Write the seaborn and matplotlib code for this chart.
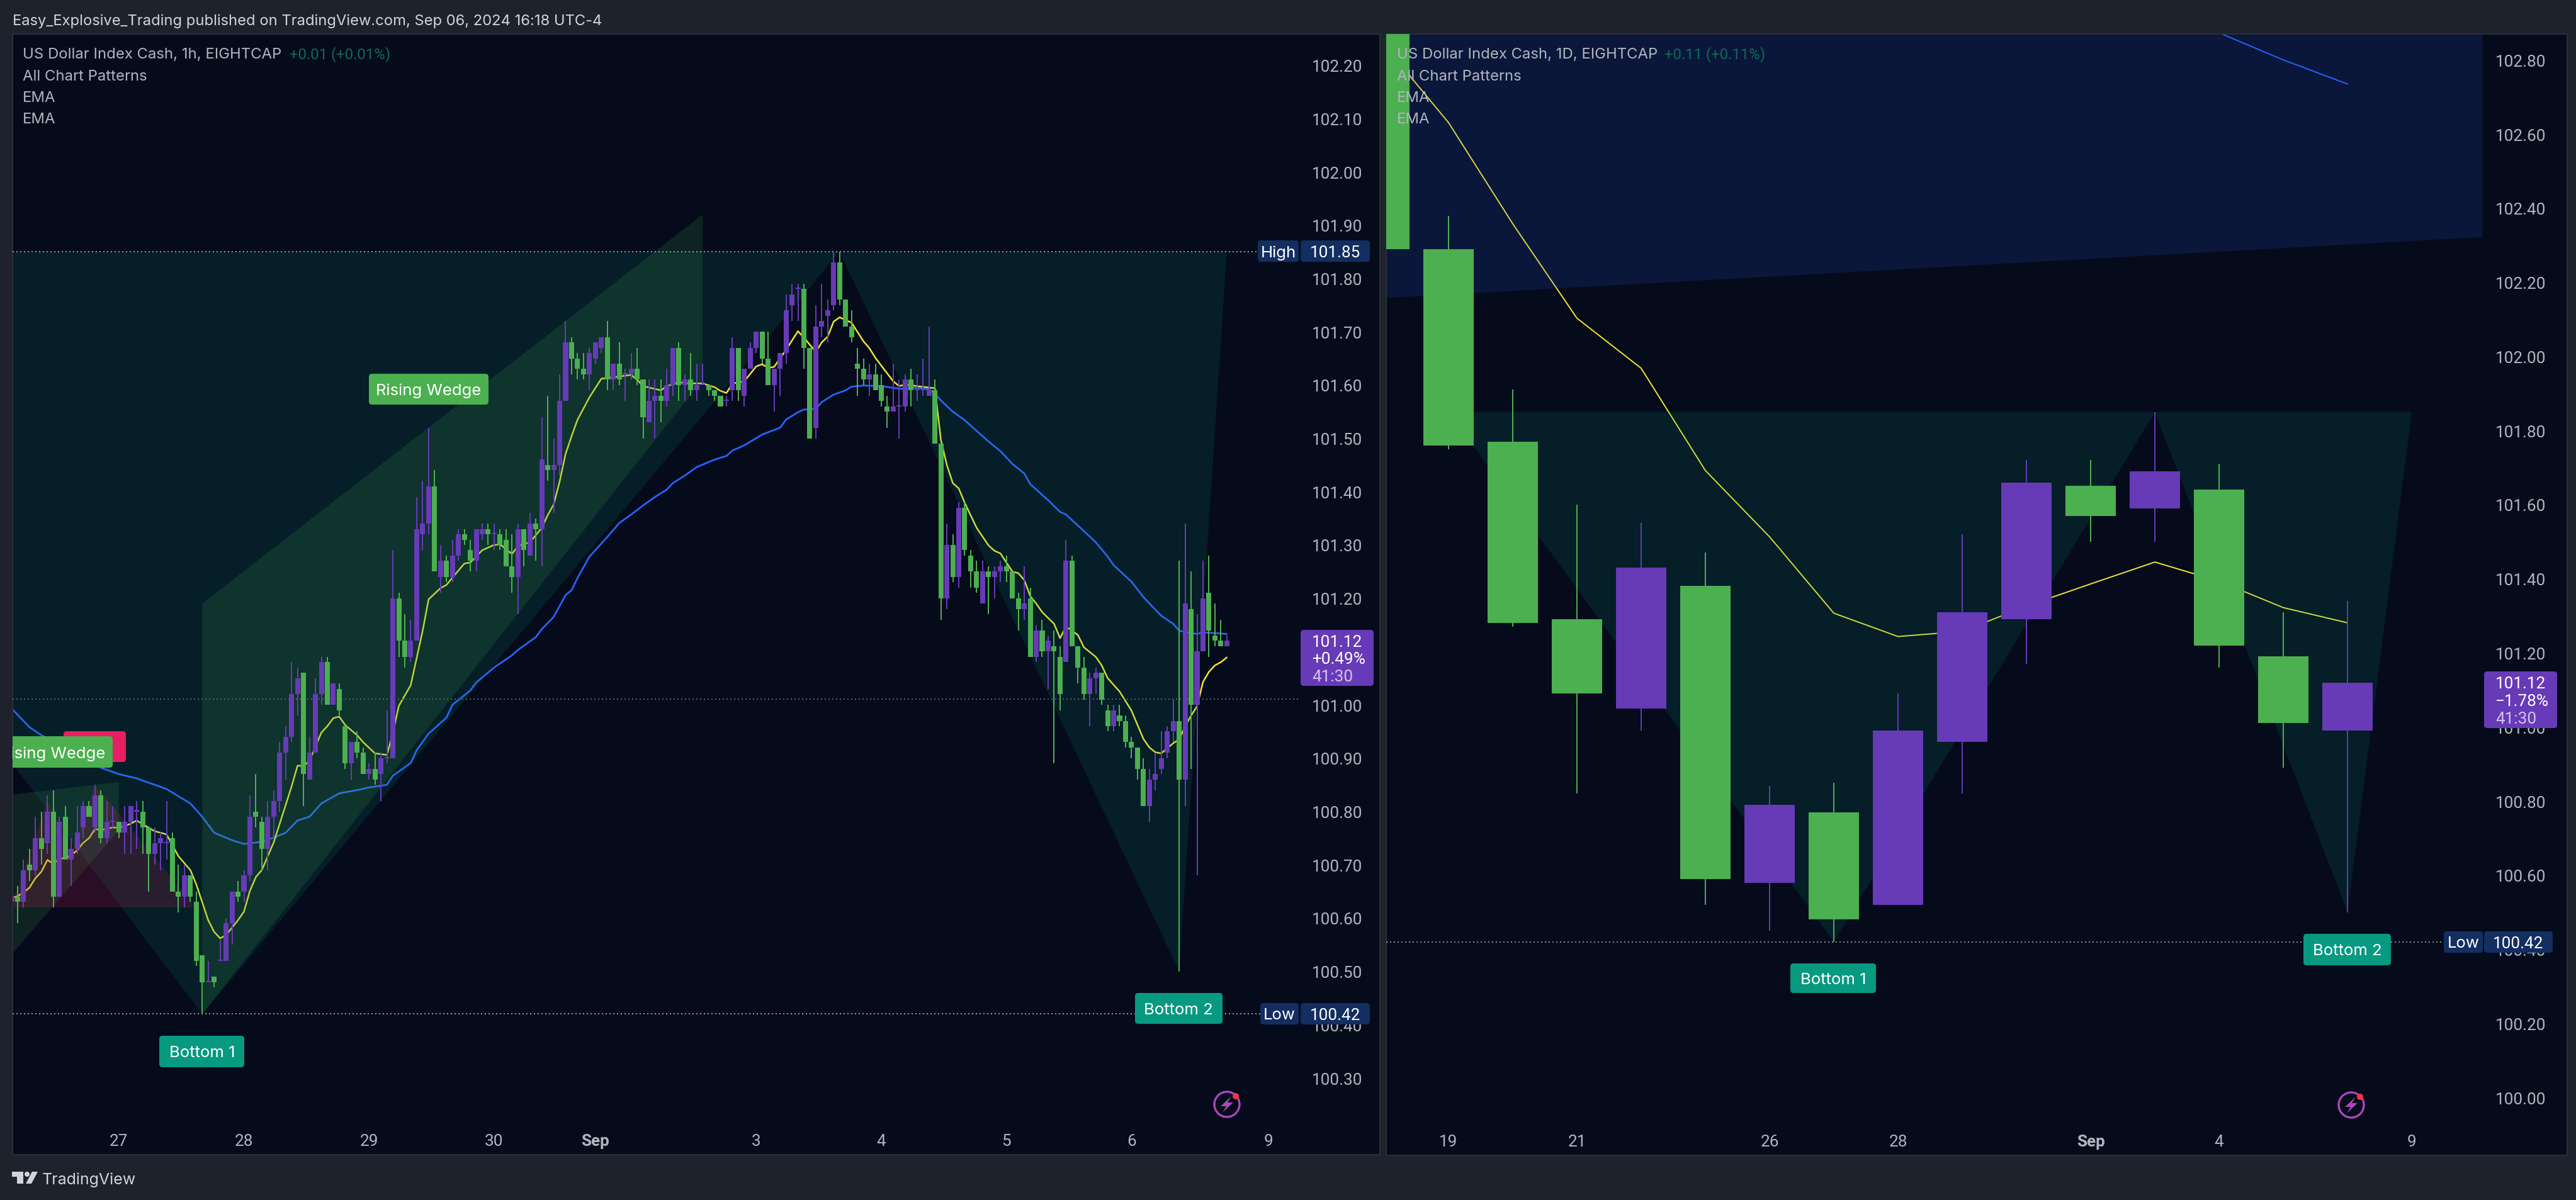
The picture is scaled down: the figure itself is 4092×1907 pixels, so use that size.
import numpy as np
import matplotlib
matplotlib.use("Agg")
import matplotlib.pyplot as plt
import seaborn as sns
from matplotlib.patches import Circle, FancyBboxPatch, Polygon
from matplotlib.transforms import Affine2D

W, H = 4092, 1908

# 1h candles
open_1h = [100.63,100.64,100.63,100.70,100.69,100.75,100.74,100.80,100.64,100.79,
    100.71,100.73,100.77,100.81,100.77,100.83,100.75,100.78,100.78,100.76,
    100.78,100.80,100.80,100.77,100.72,100.74,100.74,100.75,100.65,100.64,
    100.68,100.63,100.53,100.48,100.49,100.52,100.52,100.59,100.65,100.65,
    100.68,100.80,100.78,100.73,100.79,100.82,100.91,100.94,101.02,101.06,
    100.86,100.91,101.02,101.08,101.00,101.03,100.96,100.89,100.93,100.91,
    100.87,100.88,100.87,100.90,100.90,101.20,101.12,101.09,101.12,101.32,
    101.34,101.41,101.24,101.27,101.24,101.28,101.32,101.29,101.27,101.32,
    101.33,101.32,101.32,101.31,101.26,101.24,101.33,101.28,101.34,101.33,
    101.45,101.44,101.45,101.57,101.68,101.65,101.63,101.62,101.65,101.67,
    101.69,101.61,101.64,101.62,101.62,101.63,101.61,101.53,101.57,101.58,
    101.57,101.60,101.67,101.60,101.61,101.59,101.60,101.60,101.59,101.58,
    101.57,101.59,101.67,101.58,101.63,101.67,101.70,101.65,101.60,101.63,
    101.66,101.75,101.78,101.78,101.67,101.52,101.71,101.73,101.75,101.83,
    101.76,101.71,101.64,101.63,101.61,101.62,101.60,101.56,101.55,101.56,
    101.56,101.61,101.59,101.59,101.58,101.59,101.49,101.20,101.30,101.24,
    101.37,101.28,101.25,101.19,101.25,101.24,101.25,101.26,101.25,101.20,
    101.18,101.20,101.09,101.14,101.10,101.11,101.09,101.08,101.27,101.11,
    101.07,101.02,101.05,101.06,100.99,100.96,100.98,100.97,100.93,100.92,
    100.88,100.81,100.86,100.88,100.91,100.95,100.97,100.86,101.18,101.00,
    101.10,101.21,101.13,101.12,101.11]
high_1h = [100.64,100.66,100.71,100.73,100.79,100.80,100.83,100.84,100.79,100.81,
    100.75,100.81,100.82,100.82,100.85,100.84,100.82,100.81,100.78,100.81,
    100.81,100.82,100.82,100.77,100.77,100.76,100.82,100.76,100.70,100.70,
    100.68,100.65,100.53,100.52,100.49,100.56,100.60,100.65,100.67,100.69,
    100.83,100.87,100.79,100.82,100.84,100.93,100.96,101.08,101.07,101.06,
    100.94,101.05,101.09,101.09,101.04,101.04,100.96,100.93,100.95,100.92,
    100.89,100.91,100.91,100.99,101.29,101.21,101.17,101.16,101.39,101.42,
    101.52,101.44,101.30,101.28,101.31,101.33,101.33,101.31,101.33,101.34,
    101.34,101.34,101.33,101.33,101.32,101.34,101.33,101.36,101.35,101.54,
    101.58,101.50,101.62,101.72,101.69,101.66,101.66,101.67,101.68,101.69,
    101.72,101.64,101.68,101.63,101.66,101.67,101.61,101.61,101.61,101.61,
    101.63,101.67,101.68,101.62,101.66,101.64,101.64,101.60,101.59,101.58,
    101.58,101.69,101.67,101.63,101.68,101.70,101.70,101.70,101.63,101.66,
    101.77,101.79,101.79,101.79,101.67,101.75,101.79,101.76,101.85,101.85,
    101.76,101.74,101.67,101.65,101.64,101.64,101.62,101.58,101.64,101.61,
    101.62,101.63,101.62,101.65,101.71,101.61,101.49,101.34,101.32,101.38,
    101.38,101.29,101.27,101.27,101.26,101.26,101.27,101.28,101.25,101.21,
    101.26,101.22,101.15,101.16,101.13,101.14,101.11,101.31,101.28,101.11,
    101.09,101.06,101.07,101.06,101.00,101.00,101.00,100.98,100.94,100.92,
    100.90,100.88,100.91,100.95,100.96,101.01,101.27,101.34,101.25,101.17,
    101.27,101.28,101.19,101.16,101.13]
low_1h = [100.63,100.59,100.62,100.67,100.68,100.70,100.72,100.62,100.64,100.71,
    100.66,100.72,100.75,100.79,100.76,100.74,100.74,100.77,100.75,100.72,
    100.72,100.73,100.72,100.65,100.70,100.69,100.71,100.65,100.61,100.62,
    100.63,100.51,100.42,100.48,100.47,100.52,100.52,100.55,100.63,100.63,
    100.67,100.77,100.69,100.69,100.75,100.80,100.86,100.93,100.98,100.81,
    100.86,100.91,101.00,101.00,101.00,100.98,100.88,100.86,100.90,100.87,
    100.86,100.85,100.82,100.89,100.90,101.09,101.07,101.08,101.12,101.29,
    101.32,101.25,101.21,101.23,101.23,101.27,101.30,101.25,101.25,101.31,
    101.30,101.29,101.29,101.26,101.21,101.17,101.26,101.28,101.27,101.26,
    101.42,101.36,101.43,101.57,101.62,101.61,101.61,101.59,101.64,101.66,
    101.59,101.59,101.60,101.57,101.61,101.60,101.50,101.53,101.50,101.53,
    101.56,101.58,101.57,101.57,101.58,101.57,101.60,101.58,101.57,101.56,
    101.56,101.57,101.57,101.56,101.63,101.66,101.64,101.60,101.55,101.58,
    101.64,101.72,101.72,101.63,101.50,101.50,101.69,101.68,101.74,101.75,
    101.71,101.68,101.58,101.60,101.58,101.59,101.56,101.52,101.55,101.50,
    101.55,101.56,101.57,101.58,101.58,101.49,101.16,101.18,101.23,101.22,
    101.28,101.22,101.21,101.19,101.17,101.20,101.23,101.23,101.20,101.14,
    101.16,101.09,101.08,101.09,101.03,100.89,100.99,101.08,101.11,101.04,
    101.01,100.96,101.02,101.00,100.95,100.95,100.96,100.92,100.90,100.86,
    100.81,100.78,100.84,100.87,100.90,100.93,100.50,100.81,100.88,100.68,
    101.10,101.09,101.11,101.11,101.11]
close_1h = [100.64,100.63,100.69,100.69,100.75,100.73,100.80,100.64,100.78,100.71,
    100.73,100.76,100.81,100.79,100.83,100.75,100.78,100.78,100.76,100.78,
    100.81,100.80,100.77,100.72,100.74,100.75,100.74,100.65,100.64,100.68,
    100.64,100.52,100.48,100.48,100.48,100.52,100.59,100.65,100.64,100.68,
    100.79,100.79,100.73,100.79,100.82,100.91,100.94,101.02,101.05,100.87,
    100.91,101.02,101.08,101.00,101.04,100.99,100.89,100.93,100.91,100.87,
    100.88,100.86,100.90,100.90,101.20,101.12,101.09,101.12,101.33,101.34,
    101.41,101.25,101.27,101.24,101.28,101.32,101.31,101.27,101.33,101.33,
    101.32,101.32,101.30,101.26,101.24,101.33,101.29,101.34,101.33,101.46,
    101.44,101.45,101.57,101.68,101.65,101.63,101.62,101.66,101.68,101.69,
    101.61,101.64,101.61,101.62,101.63,101.61,101.54,101.57,101.58,101.57,
    101.60,101.67,101.60,101.61,101.59,101.60,101.60,101.59,101.58,101.56,
    101.57,101.67,101.59,101.63,101.67,101.70,101.65,101.60,101.63,101.66,
    101.74,101.77,101.78,101.67,101.50,101.71,101.72,101.74,101.83,101.76,
    101.71,101.69,101.63,101.61,101.62,101.59,101.57,101.55,101.56,101.56,
    101.61,101.59,101.59,101.59,101.59,101.49,101.20,101.30,101.24,101.37,
    101.29,101.25,101.22,101.25,101.24,101.25,101.26,101.25,101.20,101.18,
    101.19,101.09,101.14,101.10,101.12,101.10,101.02,101.27,101.11,101.07,
    101.02,101.05,101.06,101.01,100.96,100.99,100.97,100.93,100.92,100.88,
    100.81,100.86,100.87,100.90,100.95,100.97,100.86,101.19,101.00,101.10,
    101.20,101.14,101.12,101.11,101.12]

# 1h EMAs, read at these bar numbers
fast_x_1h = [0,1,2,3,4,5,6,7,8,9,10,11,12,13,14,15,17,18,20,21,22,24,26,28,30,31,33,34,35,36,38,39,40,41,42,44,
    46,47,48,49,50,52,53,54,55,56,58,59,61,63,64,65,67,69,70,72,73,75,76,77,79,81,82,84,85,87,89,90,91,92,93,94,95,
    97,99,100,104,105,106,109,110,112,114,116,118,119,120,121,123,125,126,127,128,130,132,133,135,136,137,138,139,
    141,143,144,145,148,149,150,152,155,156,157,158,159,160,162,164,165,166,168,169,170,171,172,173,175,176,177,
    179,180,182,183,184,186,188,190,191,192,193,195,196,197,198,199,200,201,202,203,204]
fast_y_1h = [100.638,100.641,100.648,100.657,100.675,100.687,100.709,100.702,100.711,100.713,100.718,100.727,
    100.741,100.750,100.767,100.765,100.770,100.769,100.777,100.783,100.776,100.763,100.757,100.716,100.690,
    100.663,100.596,100.574,100.562,100.568,100.596,100.612,100.651,100.677,100.690,100.742,
    100.812,100.847,100.886,100.885,100.895,100.948,100.960,100.975,100.978,100.962,100.943,100.930,100.909,
    100.906,100.947,100.998,101.037,101.139,101.198,101.219,101.225,101.252,101.265,101.267,101.290,101.300,
    101.301,101.283,101.298,101.305,101.332,101.356,101.376,101.419,101.471,101.504,101.535,
    101.577,101.612,101.613,101.619,101.610,101.598,101.590,101.598,101.605,101.603,101.603,101.596,101.589,
    101.585,101.603,101.607,101.635,101.639,101.632,101.634,101.666,101.701,101.689,101.662,101.680,101.691,
    101.719,101.727,101.717,101.682,101.669,101.651,101.607,101.598,101.601,101.598,101.594,101.497,101.450,
    101.416,101.406,101.379,101.332,101.299,101.289,101.284,101.250,101.247,101.234,101.204,101.190,101.174,
    101.152,101.125,101.147,101.131,101.108,101.090,101.074,101.050,101.025,100.989,100.936,100.920,100.911,
    100.909,100.928,100.935,100.960,100.980,100.997,101.043,101.062,101.074,101.080,101.089]
slow_x_1h = [0,3,5,15,18,21,26,30,32,34,37,39,42,44,46,48,50,52,55,58,60,63,64,67,68,70,73,74,77,78,81,84,85,88,89,
    91,93,94,95,97,100,102,104,106,108,110,111,113,115,118,120,121,123,126,129,130,132,133,135,136,138,140,141,143,
    146,149,152,154,155,156,158,160,164,166,168,170,171,174,176,177,180,182,184,185,188,190,193,195,196,199,200,204]
slow_y_1h = [100.993,100.958,100.943,100.882,100.870,100.862,100.842,100.815,100.790,100.760,100.746,100.739,
    100.743,100.751,100.760,100.783,100.790,100.815,100.834,100.840,100.845,100.850,100.867,100.891,100.915,
    100.946,100.976,101.000,101.027,101.042,101.070,101.093,101.103,101.127,101.142,101.165,101.206,101.215,
    101.238,101.278,101.315,101.341,101.357,101.374,101.390,101.404,101.416,101.430,101.446,101.460,101.467,
    101.477,101.487,101.507,101.520,101.535,101.549,101.554,101.555,101.568,101.582,101.590,101.597,101.599,
    101.598,101.593,101.595,101.592,101.584,101.571,101.550,101.534,101.494,101.476,101.452,101.434,101.414,
    101.384,101.362,101.357,101.326,101.305,101.278,101.262,101.231,101.202,101.167,101.152,101.139,101.133,
    101.136,101.133]

# 1h pattern outlines (bar number, price)
bottom_x_1h = [-65, 32, 139, 196, 204]
bottom_y_1h = [101.85, 100.42, 101.85, 100.50, 101.85]
wedge_x_1h = [32, 116, 116, 32]
wedge_y_1h = [101.19, 101.92, 101.61, 100.42]
old_wedge_x_1h = [-5, 18, 18, -5]
old_wedge_y_1h = [100.825, 100.855, 100.765, 100.467]
pink_x_1h = [0, 6, 10, 14, 31]
pink_y_1h = [100.62, 100.82, 100.72, 100.85, 100.62]

tick_x_1h = [18, 39, 60, 81, 98, 125, 146, 167, 188, 211]
tick_lab_1h = ["27", "28", "29", "30", "Sep", "3", "4", "5", "6", "9"]
price_ticks_1h = [102.20, 102.10, 102.00, 101.90, 101.80, 101.70, 101.60, 101.50, 101.40, 101.30,
    101.20, 101.10, 101.00, 100.90, 100.80, 100.70, 100.60, 100.50, 100.40, 100.30]

# daily candles
open_1d = [103.20, 102.29, 101.77, 101.29, 101.05, 101.38, 100.58, 100.77, 100.52, 100.96, 101.29, 101.65, 101.59, 101.64, 101.19, 100.99]
high_1d = [103.30, 102.38, 101.91, 101.60, 101.55, 101.47, 100.84, 100.85, 101.09, 101.52, 101.72, 101.72, 101.85, 101.71, 101.31, 101.34]
low_1d = [102.29, 101.75, 101.27, 100.82, 100.99, 100.52, 100.45, 100.42, 100.52, 100.82, 101.17, 101.50, 101.50, 101.16, 100.89, 100.50]
close_1d = [102.29, 101.76, 101.28, 101.09, 101.43, 100.59, 100.79, 100.48, 100.99, 101.31, 101.66, 101.57, 101.69, 101.22, 101.01, 101.12]
fast_1d = [102.84, 102.631, 102.358, 102.103, 101.968, 101.692, 101.513, 101.307, 101.244, 101.258, 101.326, 101.386, 101.445, 101.393, 101.322, 101.281]
slow_x_1d = [12, 13, 14, 15]
slow_y_1d = [103.05, 102.873, 102.80, 102.735]

bottom_x_1d = [1, 7, 12, 15, 16]
bottom_y_1d = [101.85, 100.42, 101.85, 100.50, 101.85]
wedge_x_1d = [-1, 17.1, 17.1, -1]
wedge_y_1d = [102.148, 102.322, 103.5, 103.5]

tick_x_1d = [1, 3, 6, 8, 11, 13, 16]
tick_lab_1d = ["19", "21", "26", "28", "Sep", "4", "9"]
price_ticks_1d = [102.80, 102.60, 102.40, 102.20, 102.00, 101.80, 101.60, 101.40, 101.20, 101.00,
    100.80, 100.60, 100.40, 100.20, 100.00]

FRAME = "#1e222d"
PANEL = "#050b1a"
UP = "#673ab7"
DOWN = "#4caf50"
TEAL = "#089981"
TEXT = "#b2b5be"
FS = 18.5
FS_HEAD = 17.2
FS_NUM = 18.8
NUM_FONT = ["Roboto", "DejaVu Sans"]

sns.set_theme(style="dark", rc={"axes.grid": False})
plt.rcParams["font.family"] = ["Inter", "DejaVu Sans"]

fig = plt.figure(figsize=(W / 100, H / 100), dpi=100, facecolor=FRAME)
px = Affine2D().scale(1, -1).translate(0, H)


def make_axes(x0, x1, y0, y1):
    ax = fig.add_axes([x0 / W, 1 - y1 / H, (x1 - x0) / W, (y1 - y0) / H], facecolor=PANEL)
    for s in ax.spines.values():
        s.set_color("#2a2e39")
        s.set_linewidth(1.5)
    ax.set_axisbelow(True)
    return ax


def draw_candles(ax, o, h, l, c, width, min_h):
    o, h, l, c = map(np.array, (o, h, l, c))
    idx = np.arange(len(o))
    cols = [UP if b >= a else DOWN for a, b in zip(o, c)]
    ax.vlines(idx, l, h, colors=cols, linewidth=1.44, zorder=3)
    ax.bar(idx, np.maximum(np.abs(c - o), min_h), width, bottom=np.minimum(o, c), color=cols,
           linewidth=0, zorder=3.2)


def draw_ema(ax, x, y, color, lw):
    sns.lineplot(x=x, y=y, ax=ax, color=color, linewidth=lw, sort=False, errorbar=None, zorder=2)


def dotted(ax, y, x0, x1, color):
    ax.hlines(y, x0, x1, colors=color, linewidth=1.44, linestyles=(0, (1, 2)), zorder=2.8)


def box(ax, x0, x1, y0, y1, color, z=6):
    ax.add_patch(FancyBboxPatch((x0, y0), x1 - x0, y1 - y0, boxstyle="round,pad=0,rounding_size=5",
                                transform=px, fc=color, ec="none", zorder=z))


def label(ax, x, y, s, color="white", ha="center", z=7, size=FS, family=None):
    ax.text(x, y + 2, s, transform=px, color=color, ha=ha, va="center", fontsize=size,
            zorder=z, clip_on=True, family=family)


def header(ax, x, lines, change, change_x):
    for s, y in zip(lines, [85, 120, 154, 188]):
        label(ax, x, y, s, color=TEXT, ha="left", z=8, size=FS_HEAD)
    label(ax, change_x, 85, change, color="#0b6b58", ha="left", z=8, size=FS_HEAD, family=NUM_FONT)


def price_box(ax, x0, x1, y0, y1, text_x, big, pct, left):
    box(ax, x0, x1, y0, y1, UP)
    ys = np.linspace(y0 + 17, y1 - 17, 3)
    label(ax, text_x, ys[0], big, ha="left", size=FS_NUM, family=NUM_FONT)
    label(ax, text_x, ys[1], pct, ha="left", size=FS_NUM, family=NUM_FONT)
    label(ax, text_x, ys[2], left, ha="left", color="#d3c4ec", size=FS_NUM, family=NUM_FONT)


def tag_pair(ax, name, value, xs, y):
    box(ax, xs[0], xs[1], y - 17, y + 17, "#132e60")
    box(ax, xs[2], xs[3], y - 17, y + 17, "#132e60")
    label(ax, (xs[0] + xs[1]) / 2, y, name)
    label(ax, (xs[2] + xs[3]) / 2, y, value, size=FS_NUM, family=NUM_FONT)


def bolt(ax, cx, cy):
    ax.add_patch(Circle((cx, cy), 27, transform=px, fc=PANEL, ec="none", zorder=6))
    ax.add_patch(Circle((cx, cy), 20, transform=px, fc="none", ec="#ab47bc", lw=2.4, zorder=6.5))
    pts = np.array([[cx + 7, cy - 13], [cx - 10, cy + 3], [cx - 1, cy + 3], [cx - 7, cy + 13],
                    [cx + 10, cy - 3], [cx + 1, cy - 3]])
    ax.add_patch(Polygon(pts, transform=px, fc="#ab47bc", ec="none", zorder=6.5))
    ax.add_patch(Circle((cx + 14, cy - 13), 5, transform=px, fc="#f23645", ec="none", zorder=7))


def finish_axes(ax, xlim, ylim, xt, xl, yt, pad):
    ax.set_xlim(*xlim)
    ax.set_ylim(*ylim)
    ax.set_xlabel("")
    ax.set_ylabel("")
    ax.yaxis.tick_right()
    ax.set_yticks(yt, [f"{v:.2f}" for v in yt])
    ax.set_xticks(xt, xl)
    ax.tick_params(axis="y", length=0, pad=pad, labelsize=FS_NUM, labelcolor=TEXT)
    ax.tick_params(axis="x", length=0, pad=-24.5, labelsize=FS_NUM, labelcolor=TEXT)
    for t in ax.get_xticklabels() + ax.get_yticklabels():
        t.set_family(NUM_FONT)
        if t.get_text() == "Sep":
            t.set_fontweight("bold")


# 1h panel
ax1 = make_axes(20, 2192, 55, 1836)
ax1.fill(bottom_x_1h, bottom_y_1h, color="#089678", alpha=0.14, lw=0, zorder=2.5)
ax1.fill(wedge_x_1h, wedge_y_1h, color=DOWN, alpha=0.15, lw=0, zorder=2.5)
ax1.fill(old_wedge_x_1h, old_wedge_y_1h, color=DOWN, alpha=0.15, lw=0, zorder=2.5)
ax1.fill(pink_x_1h, pink_y_1h, color="#e91e63", alpha=0.16, lw=0, zorder=2.5)
draw_ema(ax1, slow_x_1h, slow_y_1h, "#2962ff", 2.0)
draw_ema(ax1, fast_x_1h, fast_y_1h, "#f2e62f", 1.8)
draw_candles(ax1, open_1h, high_1h, low_1h, close_1h, 0.85, 0.0024)
dotted(ax1, 101.85, 0.16, 209.2, "#9a9da6")
dotted(ax1, 100.42, 0.16, 209.6, "#9a9da6")
dotted(ax1, 101.011, 0.16, 216, "#5d5f68")

box(ax1, 101, 200, 1163, 1212, "#e91e63", z=5)
box(ax1, 0, 179, 1171, 1221, DOWN)
label(ax1, 84, 1196, "Rising Wedge")
box(ax1, 586, 776, 595, 644, DOWN)
label(ax1, 681, 619, "Rising Wedge")
box(ax1, 253, 388, 1647, 1697, TEAL)
label(ax1, 321, 1672, "Bottom 1")
box(ax1, 1803, 1942, 1579, 1628, TEAL)
label(ax1, 1872, 1604, "Bottom 2")
tag_pair(ax1, "High", "101.85", [1998, 2063, 2066, 2176], 400)
tag_pair(ax1, "Low", "100.42", [2002, 2063, 2066, 2176], 1612)
price_box(ax1, 2066, 2182, 1002, 1091, 2084, "101.12", "+0.49%", "41:30")
bolt(ax1, 1949, 1756)
header(ax1, 36, ["US Dollar Index Cash, 1h, EIGHTCAP", "All Chart Patterns", "EMA", "EMA"],
       "+0.01 (+0.01%)", 460)
finish_axes(ax1, (0.16, 229.7), (100.156, 102.2586), tick_x_1h, tick_lab_1h, price_ticks_1h, -78)

# 1D panel
ax2 = make_axes(2202, 4078, 55, 1837)
ax2.fill(bottom_x_1d, bottom_y_1d, color="#089678", alpha=0.14, lw=0, zorder=2.5)
ax2.fill(wedge_x_1d, wedge_y_1d, color="#2962ff", alpha=0.14, lw=0, zorder=2.5)
draw_ema(ax2, slow_x_1d, slow_y_1d, "#2962ff", 1.4)
draw_ema(ax2, np.arange(len(fast_1d)), fast_1d, "#f2e62f", 1.4)
draw_candles(ax2, open_1d, high_1d, low_1d, close_1d, 0.78, 0.002)
dotted(ax2, 100.42, 0.03, 16.46, "#8a8d96")

box(ax2, 2844, 2980, 1532, 1579, TEAL)
label(ax2, 2912, 1556, "Bottom 1")
box(ax2, 3659, 3798, 1485, 1535, TEAL)
label(ax2, 3729, 1510, "Bottom 2")
tag_pair(ax2, "Low", "100.42", [3882, 3944, 3946, 4055], 1498)
price_box(ax2, 3946, 4062, 1068, 1158, 3964, "101.12", "\u22121.78%", "41:30")
bolt(ax2, 3735, 1757)
header(ax2, 2219, ["US Dollar Index Cash, 1D, EIGHTCAP", "All Chart Patterns", "EMA", "EMA"],
       "+0.11 (+0.11%)", 2644)
finish_axes(ax2, (0.03, 18.42), (99.844, 102.870), tick_x_1d, tick_lab_1d, price_ticks_1d, -82)

# chrome
fig.text(20 / W, 1 - 34 / H, "Easy_Explosive_Trading published on TradingView.com, Sep 06, 2024 16:18 UTC-4",
         color="#d1d4dc", fontsize=17.1, va="center", ha="left")
fig.text(67 / W, 1 - 1875 / H, "TradingView", color="#d1d4dc", fontsize=18, va="center", ha="left")
fig.add_artist(Polygon([[19, 1863], [37, 1863], [37, 1882], [27, 1882], [27, 1871], [19, 1871]],
                       transform=px, fc="#d1d4dc", ec="none"))
fig.add_artist(Circle((43, 1867), 4, transform=px, fc="#d1d4dc", ec="none"))
fig.add_artist(Polygon([[51, 1863], [60, 1863], [50, 1882], [41, 1882]], transform=px, fc="#d1d4dc", ec="none"))

fig.savefig("out.png", dpi=100, facecolor=FRAME)
